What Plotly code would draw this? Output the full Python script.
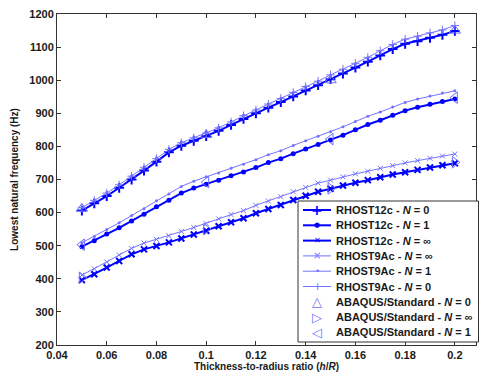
import plotly.graph_objects as go

x = [round(0.05 + 0.005 * i, 3) for i in range(31)]

r12_n0 = [606, 628, 650, 675, 700, 727, 754, 782, 802, 817, 831, 847, 865, 883, 900, 917,
          934, 951, 969, 985, 1003, 1020, 1038, 1056, 1075, 1094, 1110, 1118, 1128, 1137, 1149]
r9_n0 = [615, 637, 659, 684, 710, 737, 763, 791, 811, 826, 840, 856, 874, 893, 910, 928,
         945, 963, 981, 997, 1016, 1033, 1051, 1069, 1089, 1108, 1124, 1133, 1143, 1152, 1165]
r12_n1 = [497, 515, 535, 554, 575, 595, 618, 637, 659, 674, 686, 698, 711, 723, 736, 751,
          763, 778, 792, 806, 819, 834, 850, 866, 879, 894, 908, 918, 927, 936, 943]
r9_n1 = [509, 528, 549, 569, 591, 612, 636, 656, 679, 695, 708, 720, 734, 746, 760, 775,
         787, 803, 817, 831, 844, 859, 875, 891, 904, 919, 933, 943, 952, 961, 968]
r12_ninf = [396, 414, 434, 454, 474, 489, 499, 510, 522, 534, 545, 559, 571, 583, 598, 611,
            623, 638, 651, 663, 672, 682, 690, 698, 707, 715, 722, 729, 736, 743, 749]
r9_ninf = [411, 430, 451, 472, 492, 508, 519, 530, 543, 555, 567, 581, 594, 606, 622, 635,
           648, 663, 676, 689, 698, 708, 717, 725, 734, 742, 750, 757, 764, 771, 777]

xa = [0.05, 0.1, 0.15, 0.2]
abq_n0 = [612, 835, 1000, 1150]
abq_ninf = [403, 550, 673, 752]
abq_n1 = [503, 692, 822, 947]

xticks = [0.04, 0.06, 0.08, 0.1, 0.12, 0.14, 0.16, 0.18, 0.2]
xticklabels = ["0.04", "0.06", "0.08", "0.1", "0.12", "0.14", "0.16", "0.18", "0.2"]
yticks = [200, 300, 400, 500, 600, 700, 800, 900, 1000, 1100, 1200]

legend_names = [
    "RHOST12c - <i>N</i> = 0",
    "RHOST12c - <i>N</i> = 1",
    "RHOST12c - <i>N</i> = ∞",
    "RHOST9Ac - <i>N</i> = ∞",
    "RHOST9Ac - <i>N</i> = 1",
    "RHOST9Ac - <i>N</i> = 0",
    "ABAQUS/Standard - <i>N</i> = 0",
    "ABAQUS/Standard - <i>N</i> = ∞",
    "ABAQUS/Standard - <i>N</i> = 1",
]

dark = "#0000FF"
light = "#7373FF"
abqc = "#6f6fFF"
txt = "#1a1a1a"

fig = go.Figure()

def line(y, name, color, width, symbol, msize, mlw):
    fig.add_trace(go.Scatter(
        x=x, y=y, name=name, mode="lines+markers", showlegend=False,
        line=dict(color=color, width=width),
        marker=dict(symbol=symbol, size=msize, color=color, line=dict(color=color, width=mlw)),
    ))

line(r12_n0, legend_names[0], dark, 2, "cross-thin", 7, 2)
line(r12_n1, legend_names[1], dark, 2, "circle", 5, 0)
line(r12_ninf, legend_names[2], dark, 2, "x-thin", 6, 2)
line(r9_ninf, legend_names[3], light, 1, "x-thin", 5, 1)
line(r9_n1, legend_names[4], light, 1, "circle", 3, 0)
line(r9_n0, legend_names[5], light, 1, "cross-thin", 6, 1)

def abq(y, name, symbol):
    fig.add_trace(go.Scatter(
        x=xa, y=y, name=name, mode="markers", showlegend=False,
        marker=dict(symbol=symbol, size=10, color=abqc, line=dict(color=abqc, width=1)),
    ))

abq(abq_n0, legend_names[6], "triangle-up-open")
abq(abq_ninf, legend_names[7], "triangle-right-open")
abq(abq_n1, legend_names[8], "triangle-left-open")

# ---- legend box drawn in paper coordinates (plot area 57..476 x 14..345 px)
def px(v):
    return (v - 57) / 419.0

def py(v):
    return (345 - v) / 331.0

shapes = [dict(type="rect", xref="paper", yref="paper", x0=px(298), x1=px(478.5),
               y0=py(342), y1=py(201), line=dict(color="#333333", width=1),
               fillcolor="white", layer="above")]
annotations = []
glyphs = [
    ("+", dark, 14, True, True, 2),
    ("●", dark, 7, True, True, 2),
    ("✕", dark, 8, True, True, 2),
    ("×", light, 10, False, True, 1),
    ("•", light, 9, False, True, 1),
    ("+", light, 11, False, True, 1),
    ("△", abqc, 13, False, False, 0),
    ("▷", abqc, 13, False, False, 0),
    ("◁", abqc, 13, False, False, 0),
]
for i, (g, col, fs, bold, hasline, lw) in enumerate(glyphs):
    yc = 210 + 15.3 * i
    if hasline:
        shapes.append(dict(type="line", xref="paper", yref="paper", x0=px(303), x1=px(331),
                           y0=py(yc), y1=py(yc), line=dict(color=col, width=lw), layer="above"))
    annotations.append(dict(xref="paper", yref="paper", x=px(317), y=py(yc), text=g,
                            showarrow=False, xanchor="center", yanchor="middle",
                            font=dict(family="DejaVu Sans", size=fs, color=col,
                                      weight="bold" if bold else "normal")))
    annotations.append(dict(xref="paper", yref="paper", x=px(334), y=py(yc),
                            text=legend_names[i], showarrow=False,
                            xanchor="left", yanchor="middle",
                            font=dict(family="Arial", size=11, color=txt, weight="bold")))

axis_common = dict(
    showline=True, linecolor="#333333", linewidth=1, mirror="ticks",
    ticks="inside", ticklen=4, tickcolor="#333333",
    showgrid=False, zeroline=False, automargin=False,
    tickfont=dict(family="Arial", size=11, color=txt, weight="bold"),
)

fig.update_layout(
    width=480, height=373,
    margin=dict(l=57, r=4, t=14, b=28),
    paper_bgcolor="white", plot_bgcolor="white",
    xaxis=dict(range=[0.04, 0.2085], tickvals=xticks, ticktext=xticklabels,
               title=dict(text="Thickness-to-radius ratio (<i>h</i>/<i>R</i>)", standoff=1,
                          font=dict(family="Arial", size=10, color=txt, weight="bold")),
               **axis_common),
    yaxis=dict(range=[200, 1200], tickvals=yticks,
               title=dict(text="Lowest natural frequency (Hz)", standoff=8,
                          font=dict(family="Arial", size=10, color=txt, weight="bold")),
               **axis_common),
    shapes=shapes,
    annotations=annotations,
    showlegend=False,
)

fig.write_html("out.html")
